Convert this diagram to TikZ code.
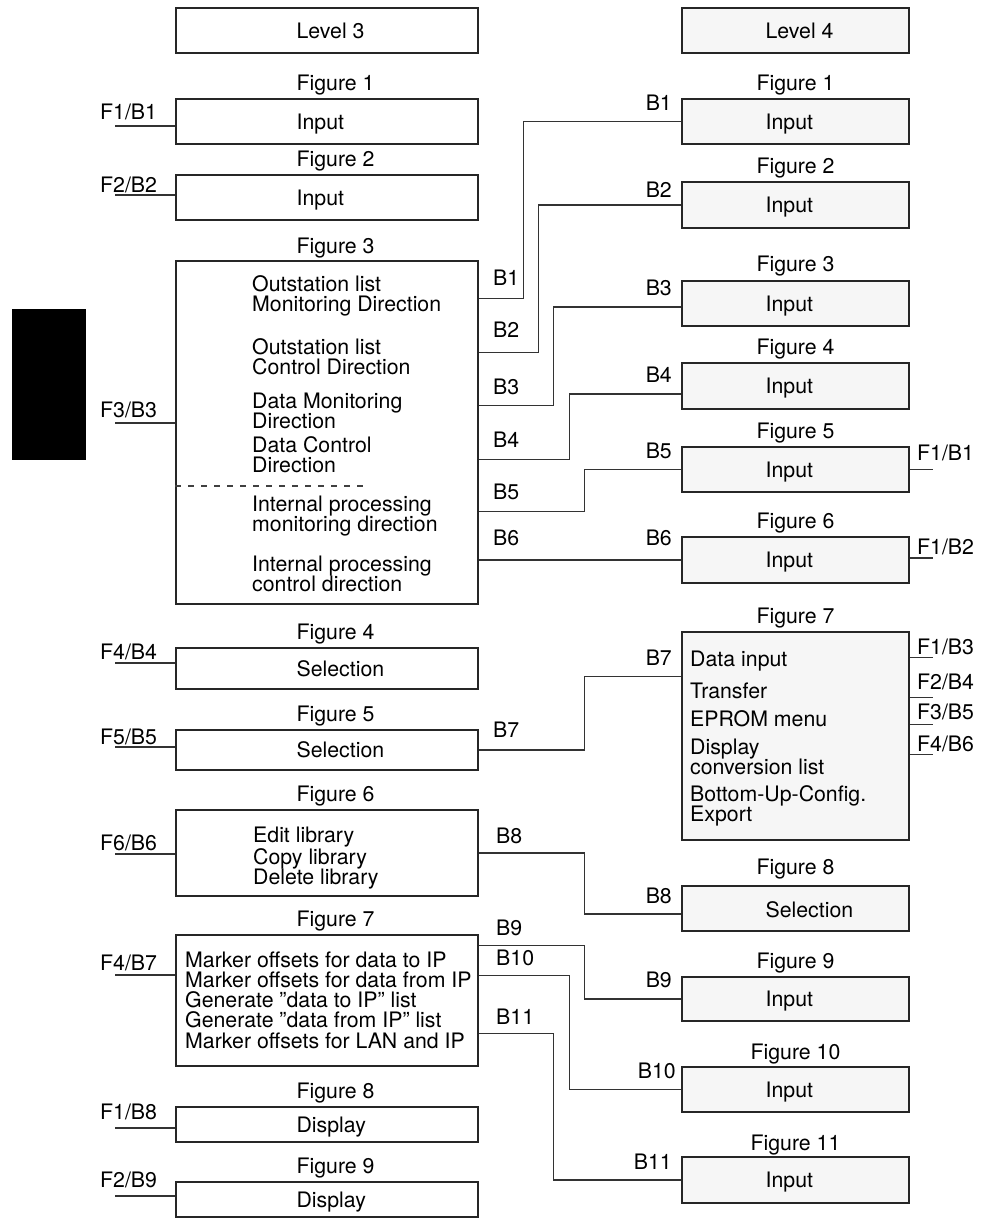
\documentclass[tikz,border=0pt]{standalone}
\usepackage{fontspec}
\setmainfont{TeX Gyre Heros}
\usepackage{xcolor}
\usepackage{tikz}
\usetikzlibrary{positioning}
\definecolor{boxgray}{RGB}{246,246,246}
\tikzset{
  lbox/.style={draw=black!85, line width=1.2pt, minimum width=302pt, inner sep=0pt},
  rbox/.style={draw=black!85, line width=1.2pt, fill=boxgray, minimum width=227pt, inner sep=0pt},
  wire/.style={draw=black!80, line width=1.2pt},
  txt/.style={inner sep=0pt, anchor=base west},
  ttl/.style={inner sep=0pt, anchor=base}
}

\begin{document}
\begin{tikzpicture}[x=1pt, y=-1pt, font=\fontsize{21.3}{20.3}\selectfont]
  \useasboundingbox (0,0) rectangle (990,1218);

  % black tab on the left
  \fill (12,309) rectangle (86,460);

  % Level 3 column
  \node[lbox, minimum height=45pt] (lv3) at (327,30.5) {};
  \node[lbox, minimum height=45pt] (l1) at (327,121.5) {};
  \node[lbox, minimum height=45pt] (l2) at (327,197.5) {};
  \node[lbox, minimum height=343pt] (l3) at (327,432.5) {};
  \node[lbox, minimum height=41pt] (l4) at (327,668.5) {};
  \node[lbox, minimum height=40pt] (l5) at (327,750) {};
  \node[lbox, minimum height=86pt] (l6) at (327,853) {};
  \node[lbox, minimum height=131pt] (l7) at (327,1000.5) {};
  \node[lbox, minimum height=35pt] (l8) at (327,1124.5) {};
  \node[lbox, minimum height=35pt] (l9) at (327,1199.5) {};

  \node[txt] (lv3c) at ([shift={(121,7.5)}]lv3.west) {Level 3};
  \node[txt] (l1t) at ([shift={(121,-8)}]l1.north west) {Figure 1};
  \node[txt] (l1c) at ([shift={(121,7.5)}]l1.west) {Input};
  \node[txt] (l2t) at ([shift={(121,-8)}]l2.north west) {Figure 2};
  \node[txt] (l2c) at ([shift={(121,7.5)}]l2.west) {Input};
  \node[txt] (l3t) at ([shift={(121,-7)}]l3.north west) {Figure 3};
  \node[txt] (l4t) at ([shift={(121,-8)}]l4.north west) {Figure 4};
  \node[txt] (l4c) at ([shift={(121,7.5)}]l4.west) {Selection};
  \node[txt] (l5t) at ([shift={(121,-8)}]l5.north west) {Figure 5};
  \node[txt] (l5c) at ([shift={(121,7.5)}]l5.west) {Selection};
  \node[txt] (l6t) at ([shift={(121,-8)}]l6.north west) {Figure 6};
  \node[txt] (l7t) at ([shift={(121,-8)}]l7.north west) {Figure 7};
  \node[txt] (l8t) at ([shift={(121,-8)}]l8.north west) {Figure 8};
  \node[txt] (l8c) at ([shift={(121,7.5)}]l8.west) {Display};
  \node[txt] (l9t) at ([shift={(121,-8)}]l9.north west) {Figure 9};
  \node[txt] (l9c) at ([shift={(121,7.5)}]l9.west) {Display};

  % Figure 3 contents
  \node[inner sep=0pt, anchor=west, align=left] (l3a) at (252,296) {Outstation list\\Monitoring Direction};
  \node[inner sep=0pt, anchor=west, align=left] (l3b) at (252,357) {Outstation list\\Control Direction};
  \node[inner sep=0pt, anchor=west, align=left] (l3c) at (252,411) {Data Monitoring\\Direction};
  \node[inner sep=0pt, anchor=west, align=left] (l3d) at (252,455) {Data Control\\Direction};
  \node[inner sep=0pt, anchor=west, align=left] (l3e) at (252,516) {Internal processing\\monitoring direction};
  \node[inner sep=0pt, anchor=west, align=left] (l3f) at (252,574) {Internal processing\\control direction};
  \draw[black!75, line width=1.1pt, dash pattern=on 6pt off 7pt] (l3.west |- 0,486) -- (363,486);

  % Figure 6 / 7 contents
  \node[inner sep=0pt, anchor=west, align=left] (l6c) at (253,858) {Edit library\\Copy library\\Delete library};
  \node[inner sep=0pt, anchor=west, align=left] (l7c) at (185,1000) {Marker offsets for data to IP\\Marker offsets for data from IP\\Generate ”data to IP” list\\Generate ”data from IP” list\\Marker offsets for LAN and IP};

  % Level 4 column
  \node[rbox, minimum height=45pt] (lv4) at (795.5,30.5) {};
  \node[rbox, minimum height=45pt] (r1) at (795.5,121.5) {};
  \node[rbox, minimum height=46pt] (r2) at (795.5,205) {};
  \node[rbox, minimum height=45pt] (r3) at (795.5,303.5) {};
  \node[rbox, minimum height=46pt] (r4) at (795.5,386) {};
  \node[rbox, minimum height=45pt] (r5) at (795.5,469.5) {};
  \node[rbox, minimum height=46pt] (r6) at (795.5,560) {};
  \node[rbox, minimum height=208pt] (r7) at (795.5,736) {};
  \node[rbox, minimum height=45pt] (r8) at (795.5,908.5) {};
  \node[rbox, minimum height=44pt] (r9) at (795.5,999) {};
  \node[rbox, minimum height=45pt] (r10) at (795.5,1089.5) {};
  \node[rbox, minimum height=46pt] (r11) at (795.5,1180) {};

  \node[txt] (lv4c) at ([shift={(84,7.5)}]lv4.west) {Level 4};
  \node[ttl] (r1t) at ([shift={(0,-8)}]r1.north) {Figure 1};
  \node[txt] (r1c) at ([shift={(84,7.5)}]r1.west) {Input};
  \node[ttl] (r2t) at ([shift={(0,-8)}]r2.north) {Figure 2};
  \node[txt] (r2c) at ([shift={(84,7.5)}]r2.west) {Input};
  \node[ttl] (r3t) at ([shift={(0,-9)}]r3.north) {Figure 3};
  \node[txt] (r3c) at ([shift={(84,7.5)}]r3.west) {Input};
  \node[ttl] (r4t) at ([shift={(0,-8)}]r4.north) {Figure 4};
  \node[txt] (r4c) at ([shift={(84,7.5)}]r4.west) {Input};
  \node[ttl] (r5t) at ([shift={(0,-8)}]r5.north) {Figure 5};
  \node[txt] (r5c) at ([shift={(84,7.5)}]r5.west) {Input};
  \node[ttl] (r6t) at ([shift={(0,-8)}]r6.north) {Figure 6};
  \node[txt] (r6c) at ([shift={(84,7.5)}]r6.west) {Input};
  \node[ttl] (r7t) at ([shift={(0,-8)}]r7.north) {Figure 7};
  \node[ttl] (r8t) at ([shift={(0,-11)}]r8.north) {Figure 8};
  \node[txt] (r8c) at ([shift={(84,9)}]r8.west) {Selection};
  \node[ttl] (r9t) at ([shift={(0,-8)}]r9.north) {Figure 9};
  \node[txt] (r9c) at ([shift={(84,7.5)}]r9.west) {Input};
  \node[ttl] (r10t) at ([shift={(0,-7)}]r10.north) {Figure 10};
  \node[txt] (r10c) at ([shift={(84,7.5)}]r10.west) {Input};
  \node[ttl] (r11t) at ([shift={(0,-6)}]r11.north) {Figure 11};
  \node[txt] (r11c) at ([shift={(84,7.5)}]r11.west) {Input};

  % Figure 7 (right) contents
  \node[txt] (r7a) at (690,666) {Data input};
  \node[txt] (r7b) at (690,698) {Transfer};
  \node[txt] (r7c) at (690,726) {EPROM menu};
  \node[inner sep=0pt, anchor=west, align=left] (r7d) at (690,757) {Display\\conversion list};
  \node[inner sep=0pt, anchor=west, align=left] (r7e) at (690,806) {Bottom-Up-Config.\\Export};

  % branches Level 3 -> Level 4
  \draw[wire] ([yshift=-38pt]l3.north east) -- ++(45,0) |- (r1.west);
  \draw[wire] ([yshift=-92pt]l3.north east) -- ++(60,0) |- (r2.west);
  \draw[wire] ([yshift=-145pt]l3.north east) -- ++(75,0) |- ([yshift=-3.5pt]r3.west);
  \draw[wire] ([yshift=-199pt]l3.north east) -- ++(91,0) |- ([yshift=-8pt]r4.west);
  \draw[wire] ([yshift=-251pt]l3.north east) -- ++(106,0) |- (r5.west);
  \draw[wire] (l3.east |- r6.west) -- (r6.west);
  \draw[wire] (l5.east) -- ++(106,0) |- ([yshift=-45pt]r7.north west);
  \draw[wire] (l6.east) -- ++(106,0) |- ([yshift=-5.5pt]r8.west);
  \draw[wire] ([yshift=-11pt]l7.north east) -- ++(106,0) |- (r9.west);
  \draw[wire] ([yshift=-41pt]l7.north east) -- ++(91,0) |- (r10.west);
  \draw[wire] ([yshift=-99pt]l7.north east) -- ++(75,0) |- (r11.west);

  \node[txt] (b1a) at (493,285) {B1};
  \node[txt] (b2a) at (493,337) {B2};
  \node[txt] (b3a) at (493,394) {B3};
  \node[txt] (b4a) at (493,447) {B4};
  \node[txt] (b5a) at (493,499) {B5};
  \node[txt] (b6a) at (493,545) {B6};
  \node[txt] (b7a) at (493,737) {B7};
  \node[txt] (b8a) at (496,843) {B8};
  \node[txt] (b9a) at (496,935) {B9};
  \node[txt] (b10a) at (496,965) {B10};
  \node[txt] (b11a) at (496,1024) {B11};

  \node[txt, anchor=base east] (b1b) at (672,110) {B1};
  \node[txt, anchor=base east] (b2b) at (672,197) {B2};
  \node[txt, anchor=base east] (b3b) at (672,295) {B3};
  \node[txt, anchor=base east] (b4b) at (672,382) {B4};
  \node[txt, anchor=base east] (b5b) at (672,458) {B5};
  \node[txt, anchor=base east] (b6b) at (672,545) {B6};
  \node[txt, anchor=base east] (b7b) at (672,665) {B7};
  \node[txt, anchor=base east] (b8b) at (672,903) {B8};
  \node[txt, anchor=base east] (b9b) at (672,987) {B9};
  \node[txt, anchor=base east] (b10b) at (676,1078) {B10};
  \node[txt, anchor=base east] (b11b) at (672,1169) {B11};

  % entry stubs, Level 3
  \draw[wire] ([yshift=-4.5pt]l1.west) -- ++(-60,0) coordinate (s1);
  \draw[wire] ([yshift=2.5pt]l2.west) -- ++(-60,0) coordinate (s2);
  \draw[wire] ([yshift=9.5pt]l3.west) -- ++(-60,0) coordinate (s3);
  \draw[wire] ([yshift=5.5pt]l4.west) -- ++(-60,0) coordinate (s4);
  \draw[wire] ([yshift=3pt]l5.west) -- ++(-60,0) coordinate (s5);
  \draw[wire] ([yshift=-1pt]l6.west) -- ++(-60,0) coordinate (s6);
  \draw[wire] ([yshift=25.5pt]l7.west) -- ++(-60,0) coordinate (s7);
  \draw[wire] ([yshift=-3.5pt]l8.west) -- ++(-60,0) coordinate (s8);
  \draw[wire] ([yshift=3.5pt]l9.west) -- ++(-60,0) coordinate (s9);

  \node[txt] (s1t) at (100,119) {F1/B1};
  \node[txt] (s2t) at (100,192) {F2/B2};
  \node[txt] (s3t) at (100,417) {F3/B3};
  \node[txt] (s4t) at (100,659) {F4/B4};
  \node[txt] (s5t) at (100,744) {F5/B5};
  \node[txt] (s6t) at (100,850) {F6/B6};
  \node[txt] (s7t) at (100,970) {F4/B7};
  \node[txt] (s8t) at (100,1119) {F1/B8};
  \node[txt] (s9t) at (100,1187) {F2/B9};

  % exit stubs, Level 4
  \draw[wire] (r5.east) -- ++(23,0) coordinate (e1);
  \draw[wire] ([yshift=2pt]r6.east) -- ++(23,0) coordinate (e2);
  \draw[wire] ([yshift=-26pt]r7.north east) -- ++(23,0) coordinate (e3);
  \draw[wire] ([yshift=-66pt]r7.north east) -- ++(23,0) coordinate (e4);
  \draw[wire] ([yshift=-93pt]r7.north east) -- ++(23,0) coordinate (e5);
  \draw[wire] ([yshift=-123pt]r7.north east) -- ++(23,0) coordinate (e6);

  \node[txt] (e1t) at (917,460) {F1/B1};
  \node[txt] (e2t) at (917,554) {F1/B2};
  \node[txt] (e3t) at (917,654) {F1/B3};
  \node[txt] (e4t) at (917,689) {F2/B4};
  \node[txt] (e5t) at (917,719) {F3/B5};
  \node[txt] (e6t) at (917,751) {F4/B6};
\end{tikzpicture}
\end{document}
